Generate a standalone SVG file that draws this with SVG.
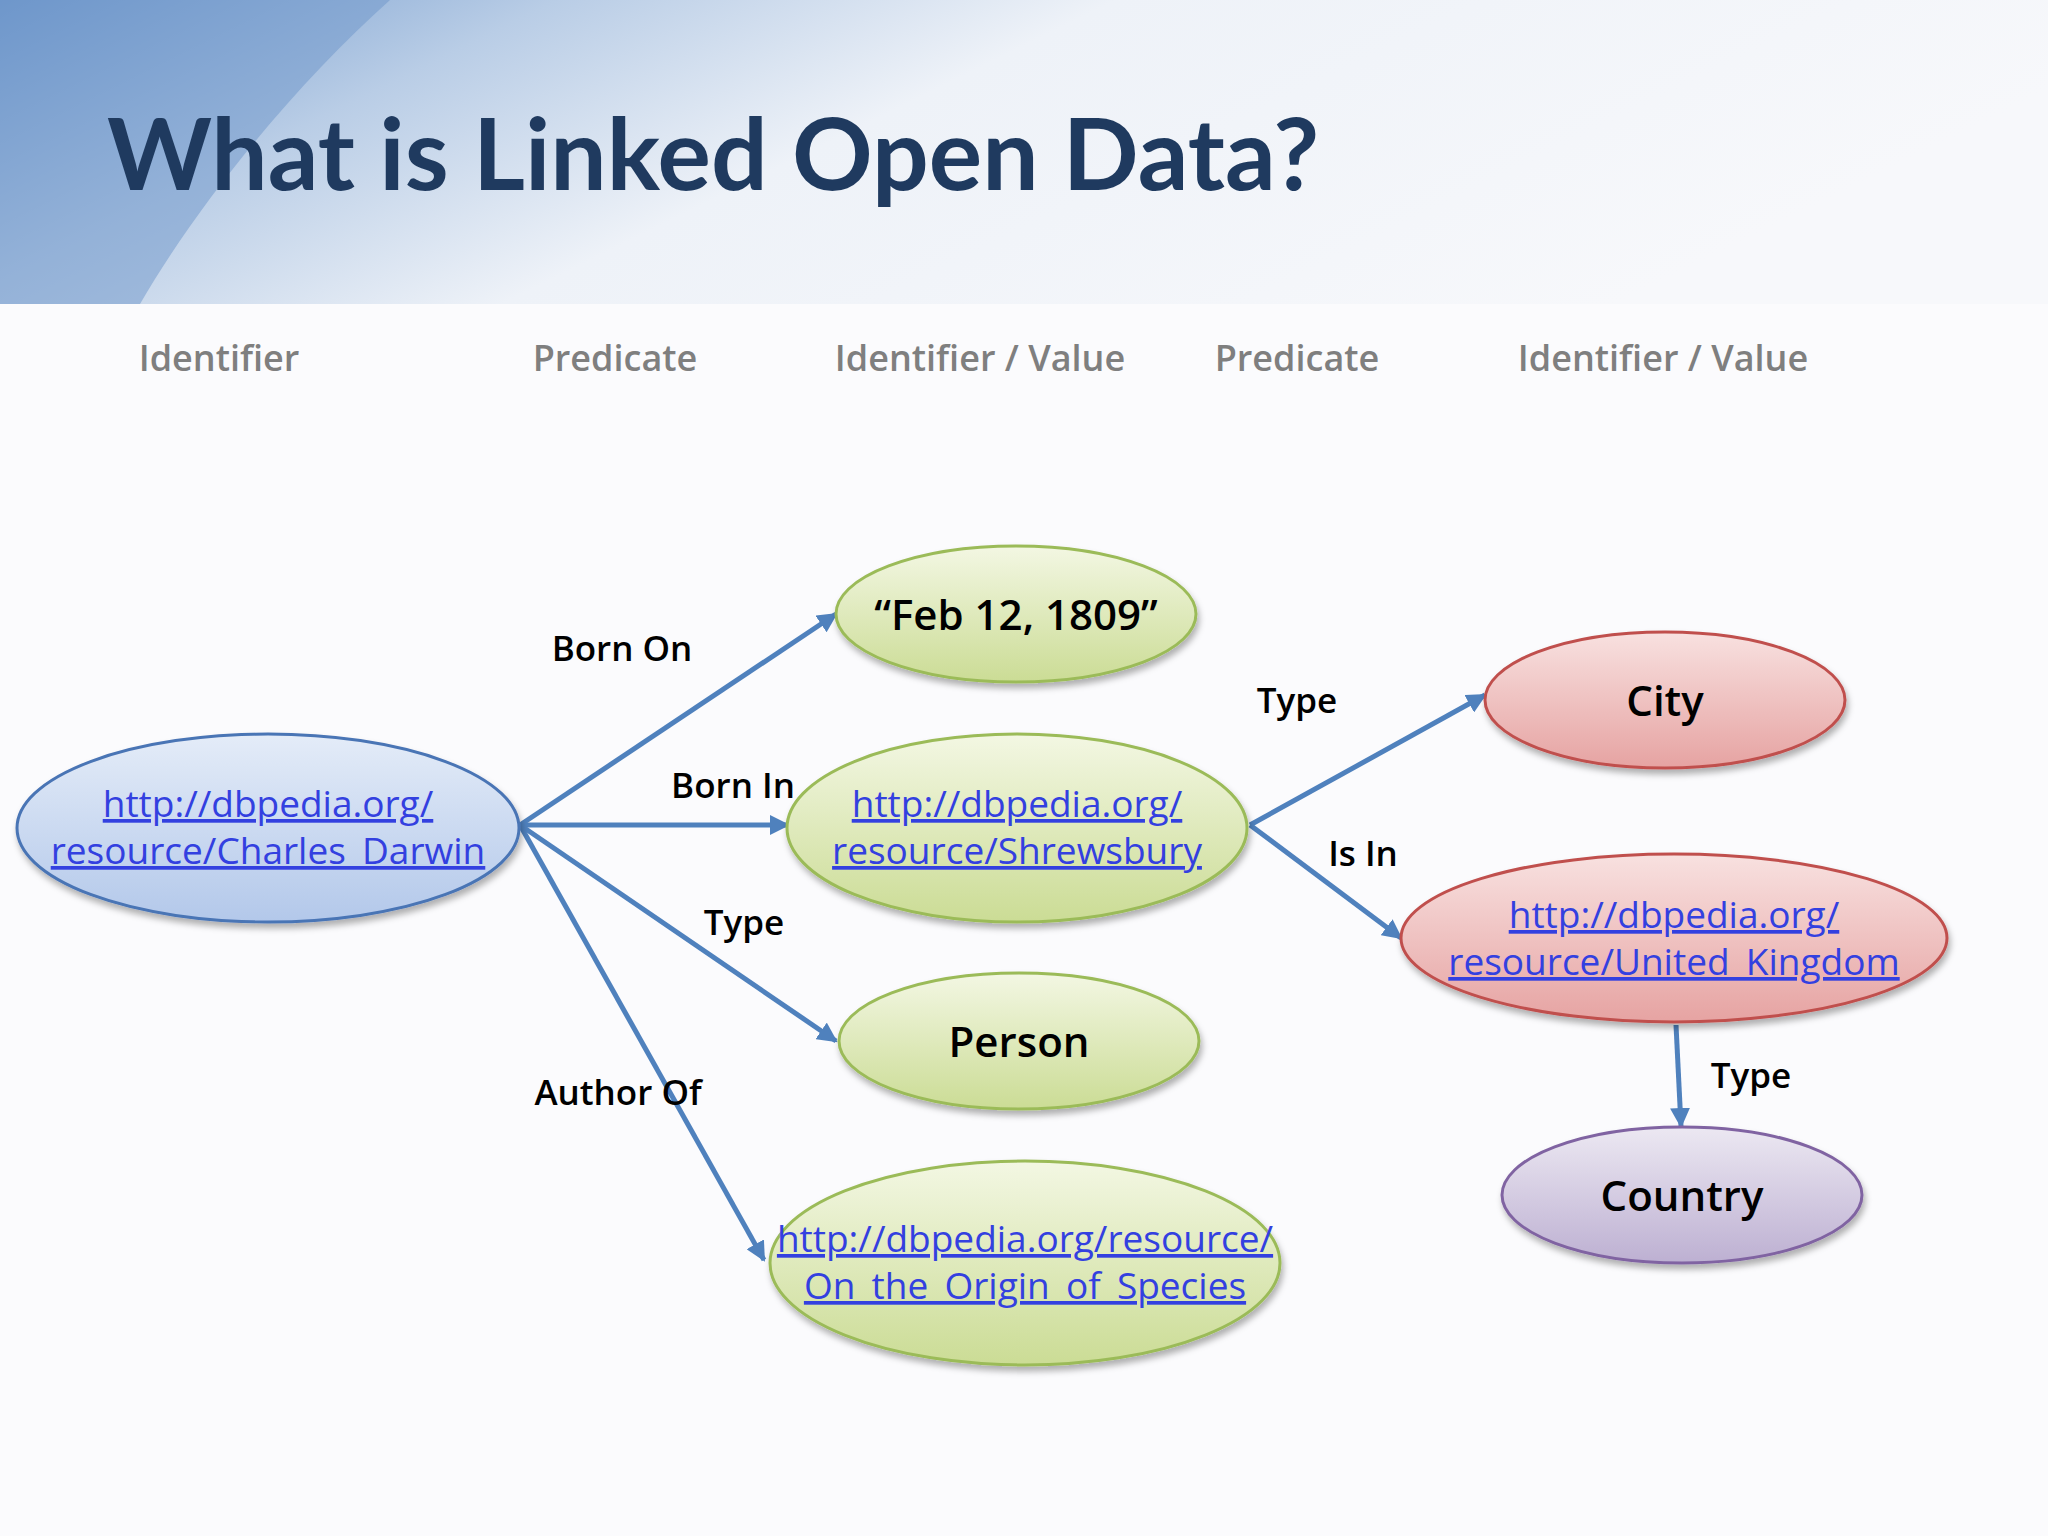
<svg xmlns="http://www.w3.org/2000/svg" width="2048" height="1536" viewBox="0 0 2048 1536">
<defs>
<linearGradient id="band" x1="0" y1="0" x2="1" y2="0.3"><stop offset="0" stop-color="#6f98cc"/><stop offset="0.25" stop-color="#b9cde6"/><stop offset="0.5" stop-color="#eef2f8"/><stop offset="1" stop-color="#f7f8fb"/></linearGradient>
<linearGradient id="gB" x1="0" y1="0" x2="0" y2="1"><stop offset="0" stop-color="#e4ecf8"/><stop offset="1" stop-color="#b3c8ea"/></linearGradient>
<linearGradient id="gG" x1="0" y1="0" x2="0" y2="1"><stop offset="0" stop-color="#f3f7e3"/><stop offset="1" stop-color="#cbdc95"/></linearGradient>
<linearGradient id="gR" x1="0" y1="0" x2="0" y2="1"><stop offset="0" stop-color="#f8e1e0"/><stop offset="1" stop-color="#e6a3a2"/></linearGradient>
<linearGradient id="gP" x1="0" y1="0" x2="0" y2="1"><stop offset="0" stop-color="#ece8f2"/><stop offset="1" stop-color="#bdb0d2"/></linearGradient>
<filter id="sh" x="-10%" y="-10%" width="130%" height="140%"><feDropShadow dx="2" dy="5" stdDeviation="3" flood-color="#000" flood-opacity="0.3"/></filter>
<marker id="ar" viewBox="0 0 10 10" refX="9" refY="5" markerWidth="4" markerHeight="4" orient="auto"><path d="M0,0 L10,5 L0,10 z" fill="#4f81bd"/></marker>
<style>
.e{stroke-width:3;filter:url(#sh)}
.b{fill:url(#gB);stroke:#4a74b5}.g{fill:url(#gG);stroke:#9bbb59}.r{fill:url(#gR);stroke:#c0504d}.p{fill:url(#gP);stroke:#8064a2}
.t{font-family:"Open Sans","Liberation Sans",sans-serif;font-weight:600;font-size:42px;fill:#000;text-anchor:middle}
.lk{font-family:"Open Sans","Liberation Sans",sans-serif;font-size:37px;fill:#3340e0;text-decoration:underline;text-anchor:middle}
.lb{font-family:"Open Sans","Liberation Sans",sans-serif;font-weight:600;font-size:35px;fill:#000;text-anchor:middle}
.h{font-family:"Open Sans","Liberation Sans",sans-serif;font-weight:600;font-size:36px;fill:#7f7f7f;text-anchor:middle}
.c line{stroke:#4f81bd;stroke-width:5;marker-end:url(#ar)}
</style>
</defs>
<rect width="2048" height="1536" fill="#fbfbfd"/>
<rect width="2048" height="304" fill="url(#band)"/>
<path d="M0,0 L390,0 C300,80 200,200 140,304 L0,304 Z" fill="#6d96ca" opacity="0.5"/>
<text x="107" y="190" font-family="Lato,'Open Sans',sans-serif" font-weight="700" font-size="100" fill="#1f3a5f">What is Linked Open Data?</text>
<text class="h" x="219" y="371">Identifier</text>
<text class="h" x="615" y="371">Predicate</text>
<text class="h" x="980" y="371">Identifier / Value</text>
<text class="h" x="1297" y="371">Predicate</text>
<text class="h" x="1663" y="371">Identifier / Value</text>
<g class="c" id="connectors">
<line x1="520" y1="825" x2="836" y2="614"/>
<line x1="520" y1="825" x2="788" y2="825"/>
<line x1="520" y1="825" x2="836" y2="1041"/>
<line x1="520" y1="825" x2="764" y2="1260"/>
<line x1="1250" y1="825" x2="1485" y2="695"/>
<line x1="1250" y1="825" x2="1401" y2="938"/>
<line x1="1676" y1="1025" x2="1681" y2="1126"/>
</g>
<g id="labels">
<text class="lb" x="622" y="661">Born On</text>
<text class="lb" x="733" y="798">Born In</text>
<text class="lb" x="744" y="935">Type</text>
<text class="lb" x="618" y="1105">Author Of</text>
<text class="lb" x="1297" y="713">Type</text>
<text class="lb" x="1363" y="866">Is In</text>
<text class="lb" x="1751" y="1088">Type</text>
</g>
<g id="darwin"><ellipse class="e b" cx="268" cy="828" rx="251" ry="94"/><text class="lk" x="268" y="817">http://dbpedia.org/</text><text class="lk" x="268" y="864">resource/Charles_Darwin</text></g>
<g id="feb"><ellipse class="e g" cx="1016" cy="614" rx="180" ry="68"/><text class="t" x="1016" y="630">“Feb 12, 1809”</text></g>
<g id="shrewsbury"><ellipse class="e g" cx="1017" cy="828" rx="230" ry="94"/><text class="lk" x="1017" y="817">http://dbpedia.org/</text><text class="lk" x="1017" y="864">resource/Shrewsbury</text></g>
<g id="person"><ellipse class="e g" cx="1019" cy="1041" rx="180" ry="68"/><text class="t" x="1019" y="1057">Person</text></g>
<g id="origin"><ellipse class="e g" cx="1025" cy="1263" rx="255" ry="102"/><text class="lk" x="1025" y="1252">http://dbpedia.org/resource/</text><text class="lk" x="1025" y="1299">On_the_Origin_of_Species</text></g>
<g id="city"><ellipse class="e r" cx="1665" cy="700" rx="180" ry="68"/><text class="t" x="1665" y="716">City</text></g>
<g id="uk"><ellipse class="e r" cx="1674" cy="938" rx="273" ry="84"/><text class="lk" x="1674" y="928">http://dbpedia.org/</text><text class="lk" x="1674" y="975">resource/United_Kingdom</text></g>
<g id="country"><ellipse class="e p" cx="1682" cy="1195" rx="180" ry="68"/><text class="t" x="1682" y="1211">Country</text></g>
</svg>
